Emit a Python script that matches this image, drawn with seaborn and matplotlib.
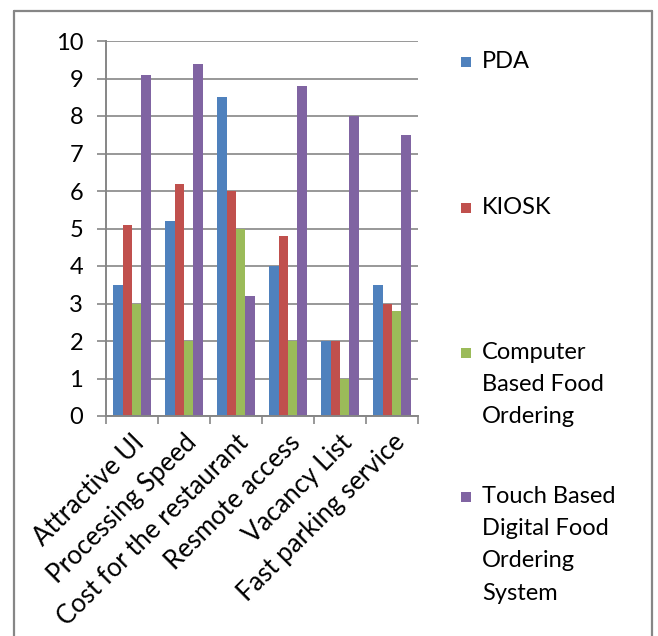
import matplotlib
matplotlib.use("Agg")
import matplotlib.pyplot as plt
from matplotlib.patches import Rectangle
from matplotlib.lines import Line2D
import seaborn as sns
import pandas as pd

categories = ["Attractive UI", "Processing Speed", "Cost for the restaurant",
              "Resmote access", "Vacancy List", "Fast parking service"]
series = ["PDA", "KIOSK", "Computer Based Food Ordering",
          "Touch Based Digital Food Ordering System"]
pda = [3.5, 5.2, 8.5, 4.0, 2.0, 3.5]
kiosk = [5.1, 6.2, 6.0, 4.8, 2.0, 3.0]
computer = [3.0, 2.0, 5.0, 2.0, 1.0, 2.8]
touch = [9.1, 9.4, 3.2, 8.8, 8.0, 7.5]
legend_labels = ["PDA", "KIOSK", "Computer\nBased Food\nOrdering",
                 "Touch Based\nDigital Food\nOrdering\nSystem"]
yticks = list(range(0, 11))

colors = ["#4F81BD", "#C0504D", "#9BBB59", "#8064A2"]
grid_gray = "#868686"

rows = []
for s, vals in zip(series, [pda, kiosk, computer, touch]):
    for c, v in zip(categories, vals):
        rows.append({"category": c, "series": s, "value": v})
df = pd.DataFrame(rows)

sns.set_theme(style="white")
plt.rcParams["font.family"] = ["Lato", "DejaVu Sans"]

fig = plt.figure(figsize=(6.58, 6.36), dpi=100)
ax = fig.add_axes([106 / 658, 1 - 416 / 636, (418 - 106) / 658, (416 - 41) / 636])

sns.barplot(data=df, x="category", y="value", hue="series", order=categories,
            hue_order=series, palette=colors, width=0.72, saturation=1,
            linewidth=0, ax=ax, legend=False)

ax.set_xlim(-0.5, len(categories) - 0.5)
ax.set_ylim(0, 10)
ax.set_yticks(yticks)
ax.set_yticklabels([str(t) for t in yticks])
ax.set_xlabel("")
ax.set_ylabel("")

ax.yaxis.grid(True, color=grid_gray, linewidth=1.2)
ax.set_axisbelow(True)
for side in ["top", "right"]:
    ax.spines[side].set_visible(False)
for side in ["left", "bottom"]:
    ax.spines[side].set_color(grid_gray)
    ax.spines[side].set_linewidth(1.4)

ax.tick_params(axis="y", length=6.5, width=1.2, color=grid_gray, direction="out",
               labelsize=17, pad=10, left=True, labelcolor="black")
ax.set_xticks(range(len(categories)))
ax.set_xticklabels(categories, rotation=45, ha="right", rotation_mode="anchor",
                   fontsize=18.5, color="black")
ax.tick_params(axis="x", which="major", length=0, pad=10)
ax.set_xticks([i - 0.5 for i in range(len(categories) + 1)], minor=True)
ax.tick_params(axis="x", which="minor", length=6, width=1.2, color=grid_gray,
               direction="out", bottom=True)

# legend entries laid out down the right side
entry_centers = [62, 208, 353, 497]
for lab, col, y in zip(legend_labels, colors, entry_centers):
    fig.add_artist(Rectangle((461 / 658, 1 - (y + 5) / 636), 10 / 658, 10 / 636,
                             transform=fig.transFigure, facecolor=col,
                             edgecolor="none"))
    fig.text(482 / 658, 1 - (y - 11) / 636, lab, fontsize=17, ha="left",
             va="top", linespacing=1.66, color="black")

# outer frame (open at the bottom)
frame_kw = dict(transform=fig.transFigure, color=grid_gray, linewidth=1.6)
fig.add_artist(Line2D([14 / 658, 14 / 658], [0, 1 - 11 / 636], **frame_kw))
fig.add_artist(Line2D([14 / 658, 652 / 658], [1 - 11 / 636, 1 - 11 / 636], **frame_kw))
fig.add_artist(Line2D([652 / 658, 652 / 658], [0, 1 - 11 / 636], **frame_kw))

fig.savefig("out.png", dpi=100)
